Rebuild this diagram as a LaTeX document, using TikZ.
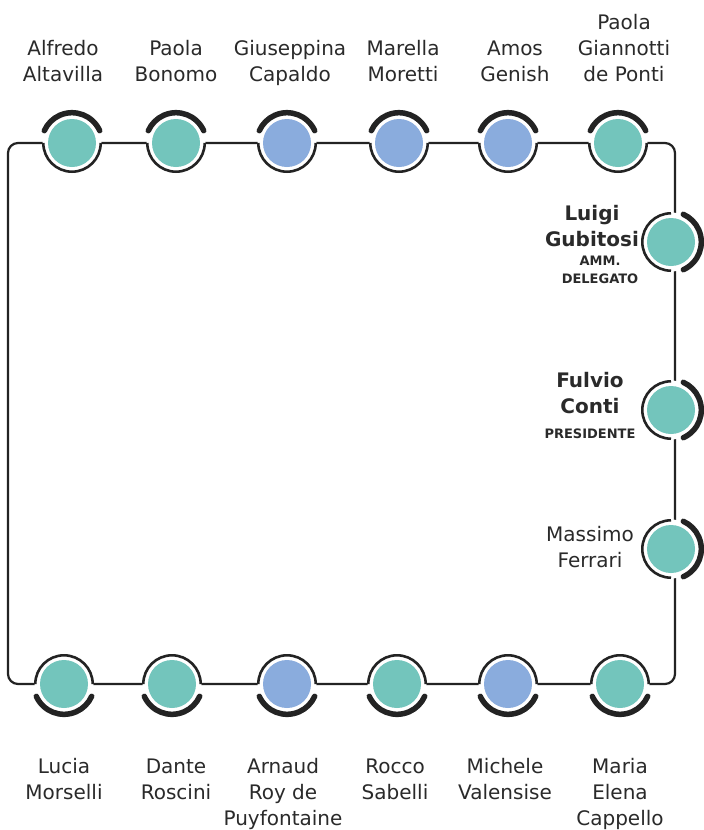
\documentclass[tikz,border=0pt]{standalone}
\usepackage{fontspec}
\setmainfont{DejaVu Sans}
\usetikzlibrary{calc}
\definecolor{teal1}{HTML}{73C5BC}
\definecolor{blue1}{HTML}{8AACDD}
\definecolor{ink}{HTML}{232323}
\definecolor{txt}{HTML}{2A2A2A}
\tikzset{
  track/.style={draw=ink, line width=2.2pt, rounded corners=10pt},
  thinring/.style={draw=ink, line width=2.6pt},
  thickarc/.style={draw=ink, line width=5.5pt, line cap=round},
  disc/.style={circle, minimum size=48pt, inner sep=0pt, draw=none},
  lbl/.style={font=\fontsize{20}{26}\selectfont, align=center, anchor=base, text=txt, inner sep=0pt},
  lblb/.style={lbl, font=\fontsize{20}{26}\selectfont\bfseries},
  role/.style={font=\fontsize{13}{18}\selectfont\bfseries, align=center, anchor=base, text=txt, inner sep=0pt}
}
% name, x, y, colour, outward direction
\newcommand\stn[5]{%
  \fill[white] (#2,#3) circle (29.5);
  \draw[thinring] ($(#2,#3)+(#5+90:28.7)$) arc[start angle=#5+90, end angle=#5+270, radius=28.7];
  \draw[thickarc] ($(#2,#3)+(#5-66:30.3)$) arc[start angle=#5-66, end angle=#5+66, radius=30.3];
  \node[disc, fill=#4] (#1) at (#2,#3) {};
}
\begin{document}
\begin{tikzpicture}[x=1pt,y=1pt]
\useasboundingbox (0,0) rectangle (704,-830);
\fill[white] (0,0) rectangle (704,-830);
% track
\coordinate (tl) at (8,-143);
\coordinate (tr) at (675,-143);
\coordinate (br) at (675,-684);
\coordinate (bl) at (8,-684);
\draw[track] (tl) -- (tr) -- (br) -- (bl) -- cycle;
% top row
\stn{t1}{72}{-143}{teal1}{90}
\stn{t2}{176}{-143}{teal1}{90}
\stn{t3}{287}{-143}{blue1}{90}
\stn{t4}{399}{-143}{blue1}{90}
\stn{t5}{508}{-143}{blue1}{90}
\stn{t6}{618}{-143}{teal1}{90}
% right column
\stn{r1}{671}{-242}{teal1}{0}
\stn{r2}{671}{-410}{teal1}{0}
\stn{r3}{671}{-549}{teal1}{0}
% bottom row
\stn{b1}{64}{-684}{teal1}{-90}
\stn{b2}{172}{-684}{teal1}{-90}
\stn{b3}{287}{-684}{blue1}{-90}
\stn{b4}{397}{-684}{teal1}{-90}
\stn{b5}{508}{-684}{blue1}{-90}
\stn{b6}{620}{-684}{teal1}{-90}
% top labels (base = last line)
\node[lbl] (lt1) at (63,-81) {Alfredo\\Altavilla};
\node[lbl] (lt2) at (176,-81) {Paola\\Bonomo};
\node[lbl] (lt3) at (290,-81) {Giuseppina\\Capaldo};
\node[lbl] (lt4) at (403,-81) {Marella\\Moretti};
\node[lbl] (lt5) at (515,-81) {Amos\\Genish};
\node[lbl] (lt6) at (624,-81) {Paola\\Giannotti\\de Ponti};
% right labels
\node[lblb] (lr1) at (592,-246) {Luigi\\Gubitosi};
\node[role] (rr1) at (600,-283) {AMM.\\DELEGATO};
\node[lblb] (lr2) at (590,-413) {Fulvio\\Conti};
\node[role] (rr2) at (590,-438) {PRESIDENTE};
\node[lbl] (lr3) at (590,-567) {Massimo\\Ferrari};
% bottom labels
\node[lbl] (lb1) at (64,-799) {Lucia\\Morselli};
\node[lbl] (lb2) at (176,-799) {Dante\\Roscini};
\node[lbl] (lb3) at (283,-825) {Arnaud\\Roy de\\Puyfontaine};
\node[lbl] (lb4) at (395,-799) {Rocco\\Sabelli};
\node[lbl] (lb5) at (505,-799) {Michele\\Valensise};
\node[lbl] (lb6) at (620,-825) {Maria\\Elena\\Cappello};
\end{tikzpicture}
\end{document}
